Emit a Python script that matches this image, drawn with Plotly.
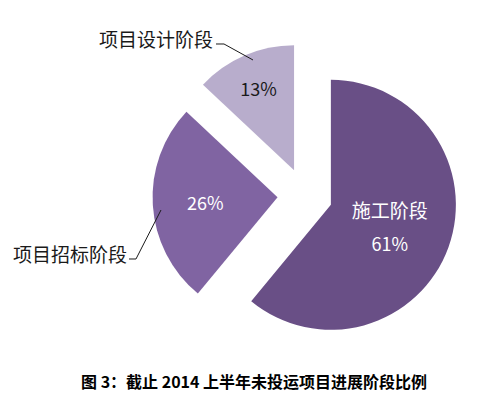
import plotly.graph_objects as go

labels = ["施工阶段", "项目招标阶段", "项目设计阶段"]
values = [61, 26, 13]
colors = ["#694F86", "#8064A2", "#B8ADCC"]
text_colors = ["white", "white", "#1a1a1a"]
title_text = "图 3：截止 2014 上半年未投运项目进展阶段比例"

W, H = 479, 397
FONT = "Noto Sans CJK SC, Microsoft YaHei, sans-serif"


def px(x, y):
    return x / W, 1 - y / H


cx, cy, half = 297, 187.5, 152.5

fig = go.Figure(go.Pie(
    labels=labels,
    values=values,
    sort=False,
    direction="clockwise",
    rotation=0,
    pull=[0.22, 0.22, 0.22],
    marker=dict(colors=colors, line=dict(width=0)),
    texttemplate=["<span style='font-size:19px'>%{label}</span><br><span style='font-size:18px'>%{percent:.0%}</span>",
                  "%{percent:.0%}", "%{percent:.0%}"],
    textposition="inside",
    insidetextorientation="horizontal",
    textfont=dict(family=FONT, size=[25, 18, 18], color=text_colors),
    hoverinfo="label+percent",
    showlegend=False,
    domain=dict(x=[(cx - half) / W, (cx + half) / W],
                y=[1 - (cy + half) / H, 1 - (cy - half) / H]),
))

annotations = [
    dict(x=px(207, 30)[0], y=px(207, 30)[1], xref="paper", yref="paper",
         text="项目设计阶段", showarrow=False, xanchor="right", yanchor="middle",
         font=dict(family=FONT, size=19, color="#1a1a1a")),
    dict(x=px(121, 245)[0], y=px(121, 245)[1], xref="paper", yref="paper",
         text="项目招标阶段", showarrow=False, xanchor="right", yanchor="middle",
         font=dict(family=FONT, size=19, color="#1a1a1a")),
    dict(x=px(246, 373)[0], y=px(246, 373)[1], xref="paper", yref="paper",
         text="<b>" + title_text + "</b>", showarrow=False, xanchor="center", yanchor="middle",
         font=dict(family=FONT, size=16, color="black")),
]


def path(points):
    s = ""
    for i, (x, y) in enumerate(points):
        X, Y = px(x, y)
        s += ("M" if i == 0 else "L") + f"{X:.5f},{Y:.5f} "
    return s.strip()


shapes = [
    dict(type="path", xref="paper", yref="paper",
         path=path([(208, 36), (216, 36), (245, 52)]),
         line=dict(color="#1a1a1a", width=1)),
    dict(type="path", xref="paper", yref="paper",
         path=path([(121, 251), (128, 251), (153, 202)]),
         line=dict(color="#1a1a1a", width=1)),
]

fig.update_layout(
    width=W, height=H,
    margin=dict(l=0, r=0, t=0, b=0),
    paper_bgcolor="white",
    plot_bgcolor="white",
    annotations=annotations,
    shapes=shapes,
)

fig.write_html("out.html")
